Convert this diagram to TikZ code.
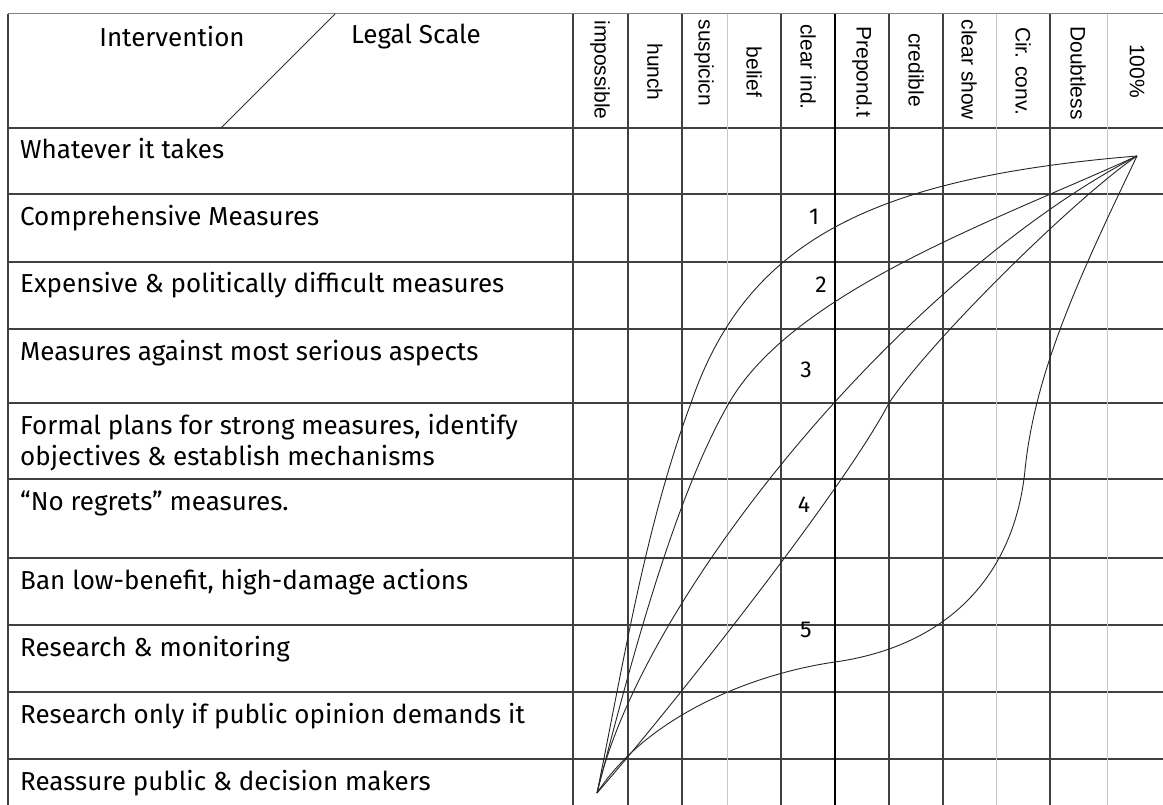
\documentclass[tikz,border=0pt]{standalone}
\usepackage{fontspec}
\setmainfont{Fira Sans}
\newfontfamily\arialf{Liberation Sans}
\begin{document}
\begin{tikzpicture}[x=1pt,y=-1pt,
  gridd/.style={draw=black!75, line width=1.3pt},
  gridh/.style={draw=black!75, line width=1.7pt},
  gridl/.style={draw=black!22, line width=0.9pt},
  gridt/.style={draw=black, line width=2.2pt},
  curve/.style={draw=black!85, line width=0.9pt},
  rowlab/.style={anchor=base west, inner sep=0, font=\fontsize{26}{30}\selectfont},
  headlab/.style={inner sep=0, font=\fontsize{26}{30}\selectfont},
  collab/.style={rotate=-90, inner sep=0, font=\arialf\fontsize{21}{24}\selectfont},
  numlab/.style={inner sep=0, font=\fontsize{23}{26}\selectfont}]
\useasboundingbox (0,0) rectangle (1163,805);
\fill[white] (0,0) rectangle (1163,805);
% horizontal lines
\draw[draw=black!50, line width=1pt] (8,14) -- (1163,14);
\foreach \y in {128,194,262,329,403,479,558,625,692,759}
  \draw[gridh] (8,\y) -- (1163,\y);
% vertical lines
\draw[gridd] (8,14) -- (8,805);
\foreach \x in {573,628,682,781,889,943,1050}
  \draw[gridd] (\x,14) -- (\x,805);
\foreach \x in {727,996,1107}
  \draw[gridl] (\x,14) -- (\x,805);
\draw[gridt] (835,14) -- (835,805);
% header
\draw[draw=black!80, line width=1pt] (335,14) -- (221,128);
\node[headlab] (hint) at (172,37) {Intervention};
\node[headlab] (hleg) at (416,37) {Legal Scale};
% column labels
\node[collab] (c1) at (600,70) {impossible};
\node[collab] (c2) at (655,72) {hunch};
\node[collab] (c3) at (704,63) {suspicicn};
\node[collab] (c4) at (754,72) {belief};
\node[collab] (c5) at (808,67) {clear ind.};
\node[collab] (c6) at (862,72) {Prepond.t};
\node[collab] (c7) at (916,70) {credible};
\node[collab] (c8) at (969,70) {clear show};
\node[collab] (c9) at (1023,71) {Cir. conv.};
\node[collab] (c10) at (1078,73) {Doubtless};
\node[collab] (c11) at (1137,71) {100\%};
% row labels
\node[rowlab] (r1) at (20,159) {Whatever it takes};
\node[rowlab] (r2) at (20,226) {Comprehensive Measures};
\node[rowlab] (r3) at (20,293) {Expensive \& politically difficult measures};
\node[rowlab] (r4) at (20,360) {Measures against most serious aspects};
\node[rowlab] (r5a) at (20,434) {Formal plans for strong measures, identify};
\node[rowlab] (r5b) at (20,465) {objectives \& establish mechanisms};
\node[rowlab] (r6) at (20,510) {“No regrets” measures.};
\node[rowlab] (r7) at (20,589) {Ban low-benefit, high-damage actions};
\node[rowlab] (r8) at (20,656) {Research \& monitoring};
\node[rowlab] (r9) at (20,723) {Research only if public opinion demands it};
\node[rowlab] (r10) at (20,790) {Reassure public \& decision makers};
% numbers
\node[numlab] (n1) at (814,217) {1};
\node[numlab] (n2) at (821,285) {2};
\node[numlab] (n3) at (806,370) {3};
\node[numlab] (n4) at (804,505) {4};
\node[numlab] (n5) at (806,630) {5};
% curves
\coordinate (P) at (1137,156);
\coordinate (Q) at (597,793);
\coordinate (a1) at (691,403);
\coordinate (a2) at (729,403);
\coordinate (a4) at (889,403);
\coordinate (a5) at (1025,470);
\coordinate (b5) at (835,662);
\draw[curve] (Q) .. controls (623,665.6) and (645.5,525) .. (a1)
  .. controls (746,242) and (870,178) .. (P);
\draw[curve] (Q) .. controls (629.5,667) and (674,498) .. (a2)
  .. controls (794,290.4) and (1000.7,218.5) .. (P);
\draw[curve] (Q) .. controls (640,600) and (900,280) .. (P);
\draw[curve] (Q) .. controls (668,712) and (845,488) .. (a4)
  .. controls (933.8,336.6) and (1079,195) .. (P);
\draw[curve] (P) .. controls (1081,273) and (1035,370.5) .. (a5)
  .. controls (1014,579.5) and (944,646.6) .. (b5)
  .. controls (760,672.6) and (650,712) .. (Q);
\end{tikzpicture}
\end{document}
